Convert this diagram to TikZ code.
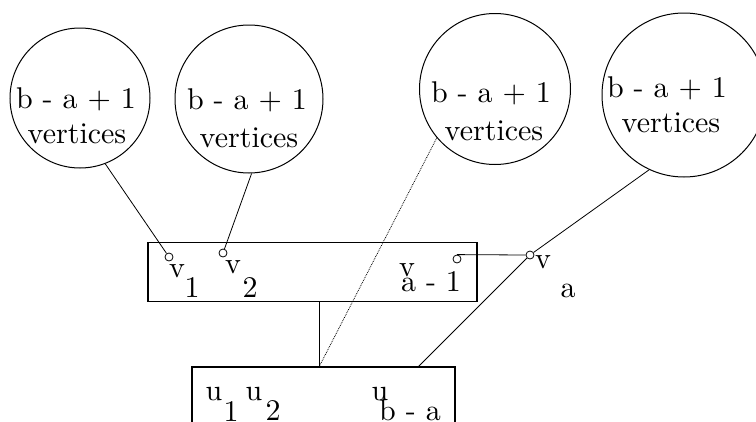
\documentclass[tikz,border=0pt]{standalone}
\begin{document}
\begin{tikzpicture}[x=1pt,y=-1pt,
  big/.style={draw, circle, line width=1pt, inner sep=0pt},
  box/.style={draw, rectangle, line width=1.3pt, inner sep=0pt},
  dotv/.style={draw, circle, line width=0.8pt, inner sep=0pt, minimum size=8pt},
  lbl/.style={inner sep=0pt, anchor=base, font=\normalsize, scale=3},
  conn/.style={line width=0.8pt}]
\useasboundingbox (0,0) rectangle (756,421);
\clip (0,0) rectangle (756,421);
\fill[white] (0,0) rectangle (756,421);

% big circles
\node[big, minimum size=140pt] (c1) at (80,98) {};
\node[big, minimum size=148pt] (c2) at (249,99) {};
\node[big, minimum size=151pt] (c3) at (495,89) {};
\node[big, minimum size=164pt] (c4) at (684,95) {};

\node[lbl] (c1a) at (76,108) {b - a + 1};
\node[lbl] (c1b) at (77,143) {vertices};
\node[lbl] (c2a) at (247,109) {b - a + 1};
\node[lbl] (c2b) at (249,147) {vertices};
\node[lbl] (c3a) at (491,102) {b - a + 1};
\node[lbl] (c3b) at (494,140) {vertices};
\node[lbl] (c4a) at (667,97) {b - a + 1};
\node[lbl] (c4b) at (671,132) {vertices};

% boxes
\node[box, minimum width=329pt, minimum height=59pt] (r1) at (312.5,272) {};
\node[box, minimum width=263pt, minimum height=100pt] (r2) at (323.5,417) {};

% small vertices
\node[dotv] (v1) at (169,257) {};
\node[dotv] (v2) at (223,253) {};
\node[dotv] (va1) at (457,259) {};
\node[dotv] (va) at (530,255) {};

\coordinate (r1b) at (319,301);
\coordinate (r2t) at (319,367);
\coordinate (r2r) at (418,367);

% connectors
\draw[conn] (c1.-69) -- (v1);
\draw[conn] (c2.-88) -- (v2);
\draw[conn, densely dotted] (c3.-140) -- (r2t);
\draw[conn] (c4.-115) -- (va);
\draw[conn] (va) -- (r2r);
\draw[conn] (va1.north) -- (va.west);
\draw[conn] (r1b) -- (r2t);

% labels
\node[lbl] (l1v) at (177,277) {v};
\node[lbl] (l1s) at (192,297) {1};
\node[lbl] (l2v) at (233,273) {v};
\node[lbl] (l2s) at (250,297) {2};
\node[lbl] (l3v) at (407,276) {v};
\node[lbl] (l3s) at (431,291) {a - 1};
\node[lbl] (l4v) at (543,268) {v};
\node[lbl] (l4s) at (568,297) {a};

\node[lbl] (u1v) at (214,400) {u};
\node[lbl] (u1s) at (231,421) {1};
\node[lbl] (u2v) at (254,400) {u};
\node[lbl] (u2s) at (273,420) {2};
\node[lbl] (u3v) at (380,400) {u};
\node[lbl] (u3s) at (410,420) {b - a};
\end{tikzpicture}
\end{document}
